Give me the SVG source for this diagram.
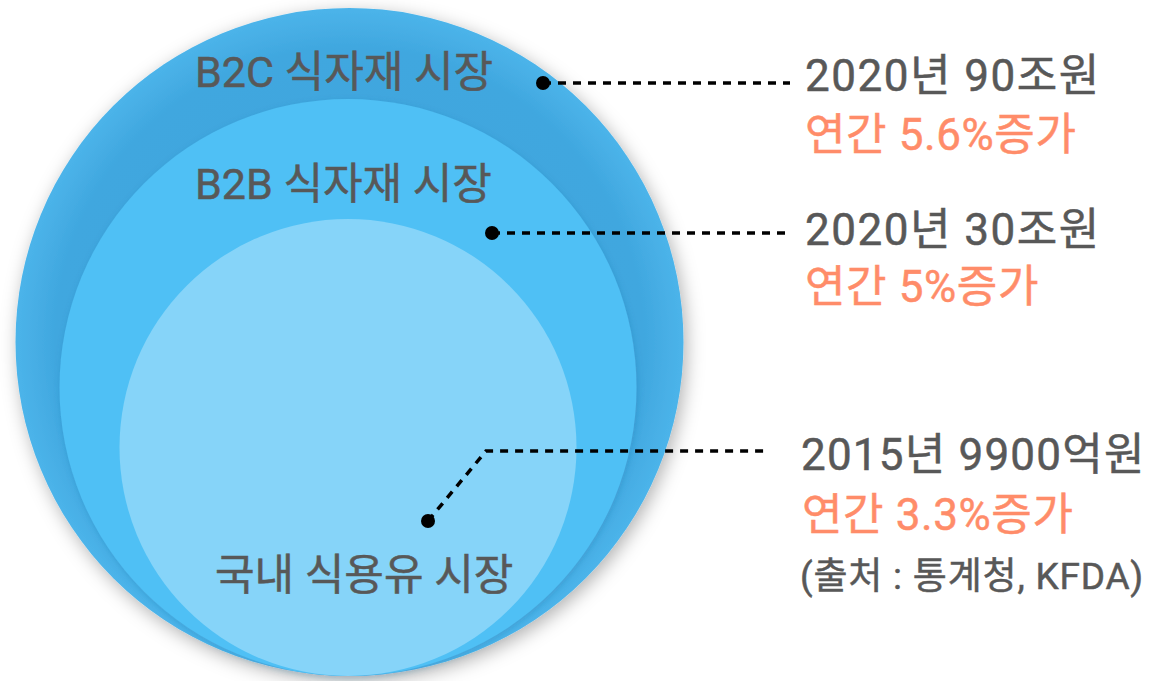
<svg xmlns="http://www.w3.org/2000/svg" width="1153" height="681" viewBox="0 0 1153 681">
<defs>
<radialGradient id="gOuter" cx="0.5" cy="0.5" r="0.5">
<stop offset="0" stop-color="#3ea3db"/>
<stop offset="0.88" stop-color="#40a7df"/>
<stop offset="1" stop-color="#4cb4ea"/>
</radialGradient>
<filter id="sh" x="-20%" y="-20%" width="140%" height="140%">
<feDropShadow dx="3" dy="5" stdDeviation="9" flood-color="#000" flood-opacity="0.3"/>
</filter>
<filter id="sh2" x="-20%" y="-20%" width="140%" height="140%">
<feDropShadow dx="1" dy="2" stdDeviation="3" flood-color="#1a6a9a" flood-opacity="0.25"/>
</filter>
</defs>
<style>
.t{font-family:Roboto,"Noto Sans CJK KR",sans-serif;font-weight:400;stroke-width:0.5px;paint-order:stroke}
.lbl{font-size:43px;fill:#585858;stroke:#585858}
.val{font-size:44px;fill:#585858;stroke:#585858;letter-spacing:1.5px}
.inc{font-size:44px;fill:#ff8c69;stroke:#ff8c69;letter-spacing:0.6px}
.src{font-size:37px;fill:#585858;stroke:#585858}
.lead{fill:none;stroke:#000;stroke-width:3.5;stroke-dasharray:8 7}
.dot{fill:#000}
</style>
<g id="b2c">
<circle cx="349.5" cy="342" r="334" fill="url(#gOuter)" filter="url(#sh)"/>
<text class="t lbl" x="195" y="87">B2C 식자재 시장</text>
</g>
<g id="b2b">
<circle cx="348" cy="387.5" r="288.5" fill="#4fc0f5" filter="url(#sh2)"/>
<text class="t lbl" x="195" y="199">B2B 식자재 시장</text>
</g>
<g id="oil">
<circle cx="348" cy="447.5" r="228.5" fill="#86d4f9"/>
<text class="t lbl" x="215" y="590">국내 식용유 시장</text>
</g>
<g id="connectors">
<path class="lead" d="M543 83 H790"/>
<circle class="dot" cx="543" cy="83" r="7"/>
<path class="lead" d="M492 233 H788"/>
<circle class="dot" cx="492" cy="233" r="7"/>
<path class="lead" d="M428 521 L486 451 H768"/>
<circle class="dot" cx="428" cy="521" r="7"/>
</g>
<g id="info-b2c">
<text class="t val" x="805" y="91">2020년 90조원</text>
<text class="t inc" x="805" y="150">연간 5.6%증가</text>
</g>
<g id="info-b2b">
<text class="t val" x="805" y="245">2020년 30조원</text>
<text class="t inc" x="805" y="302">연간 5%증가</text>
</g>
<g id="info-oil">
<text class="t val" x="801" y="470" style="letter-spacing:1.2px">2015년 9900억원</text>
<text class="t inc" x="802" y="530">연간 3.3%증가</text>
<text class="t src" x="800" y="589" style="letter-spacing:0.8px">(출처 : 통계청, KFDA)</text>
</g>
</svg>
